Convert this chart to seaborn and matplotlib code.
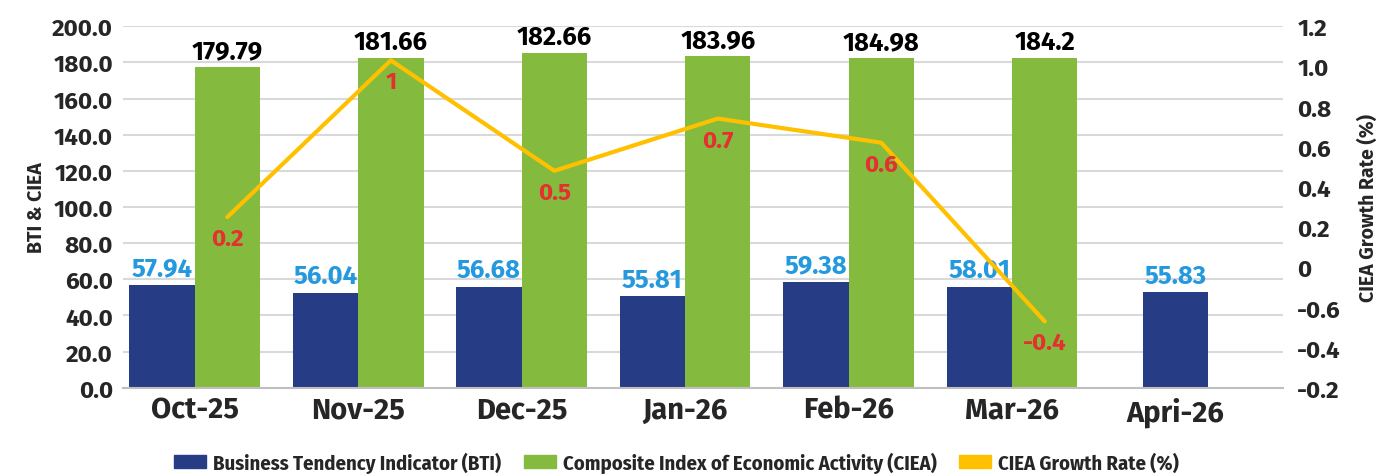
import numpy as np
import pandas as pd
import matplotlib
matplotlib.use("Agg")
import matplotlib.pyplot as plt
import matplotlib.patches as mpatches
import seaborn as sns

sns.set_theme(style="white")
plt.rcParams['font.family'] = ['Fira Sans', 'Open Sans', 'DejaVu Sans']

months = ["Oct-25", "Nov-25", "Dec-25", "Jan-26", "Feb-26", "Mar-26", "Apri-26"]
# bar heights as drawn in the reference, and the labels printed on them
bti = [56.9, 52.5, 55.8, 50.8, 58.5, 55.8, 53.0]
bti_labels = ["57.94", "56.04", "56.68", "55.81", "59.38", "58.01", "55.83"]
ciea = [177.2, 182.2, 185.0, 183.3, 182.2, 182.2]
ciea_labels = ["179.79", "181.66", "182.66", "183.96", "184.98", "184.2"]
growth = [0.25, 1.03, 0.48, 0.74, 0.62, -0.27]
growth_labels = ["0.2", "1", "0.5", "0.7", "0.6", "-0.4"]
right_ticks = [1.2, 1.0, 0.8, 0.6, 0.4, 0.2, 0.0, -0.2, -0.4, -0.6]
right_tick_labels = ["1.2", "1.0", "0.8", "0.6", "0.4", "0.2", "0", "-0.6", "-0.4", "-0.2"]

c_bti = "#263C85"
c_ciea = "#84BB3F"
c_line = "#FFC000"
c_bti_lab = "#2599DE"
c_red = "#E53030"

df = pd.concat([
    pd.DataFrame({"month": months, "value": bti, "series": "BTI"}),
    pd.DataFrame({"month": months[:len(ciea)], "value": ciea, "series": "CIEA"}),
])

fig, ax = plt.subplots(figsize=(13.95, 4.77), dpi=100)
fig.subplots_adjust(left=0.088, right=0.92, bottom=0.185, top=0.943)

sns.barplot(data=df, x="month", y="value", hue="series", order=months,
            palette=[c_bti, c_ciea], width=0.8, saturation=1, linewidth=0,
            ax=ax, legend=False)

# april has no CIEA bar, so centre its BTI bar on the tick
last = ax.containers[0].patches[-1]
last.set_x(last.get_x() + last.get_width() / 2)

ax.bar_label(ax.containers[0], labels=bti_labels, padding=3, color=c_bti_lab,
             fontsize=18.5, fontweight="bold")
ax.bar_label(ax.containers[1], labels=ciea_labels, padding=3, color="black",
             fontsize=18.5, fontweight="bold")

ax.set_ylim(0, 200)
ax.set_yticks(np.arange(0, 201, 20))
ax.set_yticklabels([f"{v:.1f}" for v in np.arange(0, 201, 20)])
ax.set_xlim(-0.44, 6.66)
ax.yaxis.grid(True, color="#D9D9D9", lw=1.5)
ax.set_axisbelow(True)
for s in ["top", "right", "left"]:
    ax.spines[s].set_visible(False)
ax.spines["bottom"].set_color("#BFBFBF")
ax.spines["bottom"].set_linewidth(1.5)
ax.tick_params(axis="y", length=0, pad=7, labelsize=17.5)
ax.tick_params(axis="x", length=0, pad=6, labelsize=21)
for t in ax.get_xticklabels() + ax.get_yticklabels():
    t.set_fontweight("bold")
ax.set_xlabel("")
ax.set_ylabel("BTI & CIEA", fontsize=14, fontweight="bold", labelpad=4)

ax2 = ax.twinx()
xline = np.arange(len(growth)) + 0.2
sns.lineplot(x=xline, y=growth, ax=ax2, color=c_line, lw=3, legend=False)
for x, y, lab in zip(xline, growth, growth_labels):
    ax2.annotate(lab, (x, y), xytext=(0, -7), textcoords="offset points",
                 ha="center", va="top", color=c_red, fontsize=17.5, fontweight="bold")
ax2.set_ylim(-0.6, 1.2)
ax2.set_yticks(right_ticks)
ax2.set_yticklabels(right_tick_labels)
ax2.tick_params(axis="y", length=0, pad=10, labelsize=17.5)
for t in ax2.get_yticklabels():
    t.set_fontweight("bold")
for s in ax2.spines.values():
    s.set_visible(False)
ax2.set_ylabel("CIEA Growth Rate (%)", fontsize=14, fontweight="bold", labelpad=12)

handles = [mpatches.Patch(color=c_bti), mpatches.Patch(color=c_ciea), mpatches.Patch(color=c_line)]
names = ["Business Tendency Indicator (BTI)", "Composite Index of Economic Activity (CIEA)",
         "CIEA Growth Rate (%)"]
fig.legend(handles, names, loc="lower center", bbox_to_anchor=(0.485, -0.032), ncol=3,
           frameon=False, handlelength=1.55, handleheight=0.55, handletextpad=0.35,
           columnspacing=1.1,
           prop={"family": ["Fira Sans Condensed", "Roboto Condensed"], "weight": "bold", "size": 14.8})

fig.savefig("out.png", dpi=100)
